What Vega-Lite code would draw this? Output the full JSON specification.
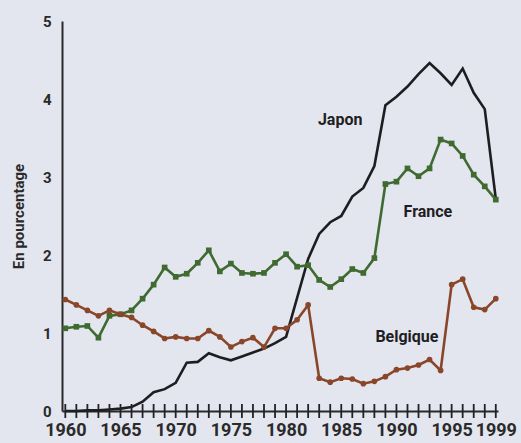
{
  "$schema": "https://vega.github.io/schema/vega-lite/v6.json",
  "width": 436,
  "height": 390,
  "autosize": {"type": "none"},
  "padding": {"left": 62, "top": 21, "right": 23, "bottom": 32},
  "background": "#e3e5ef",
  "config": {"view": {"stroke": null}, "font": "Roboto"},
  "datasets": {
    "series": [
    {"year":1960,"country":"Japon","value":0.0},{"year":1961,"country":"Japon","value":0.0},{"year":1962,"country":"Japon","value":0.01},{"year":1963,"country":"Japon","value":0.01},{"year":1964,"country":"Japon","value":0.02},{"year":1965,"country":"Japon","value":0.03},{"year":1966,"country":"Japon","value":0.05},{"year":1967,"country":"Japon","value":0.12},{"year":1968,"country":"Japon","value":0.24},{"year":1969,"country":"Japon","value":0.28},{"year":1970,"country":"Japon","value":0.36},{"year":1971,"country":"Japon","value":0.62},{"year":1972,"country":"Japon","value":0.63},{"year":1973,"country":"Japon","value":0.74},{"year":1974,"country":"Japon","value":0.69},{"year":1975,"country":"Japon","value":0.65},{"year":1976,"country":"Japon","value":0.7},{"year":1977,"country":"Japon","value":0.75},{"year":1978,"country":"Japon","value":0.8},{"year":1979,"country":"Japon","value":0.87},{"year":1980,"country":"Japon","value":0.95},{"year":1981,"country":"Japon","value":1.45},{"year":1982,"country":"Japon","value":1.95},{"year":1983,"country":"Japon","value":2.27},{"year":1984,"country":"Japon","value":2.42},{"year":1985,"country":"Japon","value":2.5},{"year":1986,"country":"Japon","value":2.75},{"year":1987,"country":"Japon","value":2.86},{"year":1988,"country":"Japon","value":3.14},{"year":1989,"country":"Japon","value":3.92},{"year":1990,"country":"Japon","value":4.03},{"year":1991,"country":"Japon","value":4.16},{"year":1992,"country":"Japon","value":4.32},{"year":1993,"country":"Japon","value":4.46},{"year":1994,"country":"Japon","value":4.33},{"year":1995,"country":"Japon","value":4.18},{"year":1996,"country":"Japon","value":4.39},{"year":1997,"country":"Japon","value":4.08},{"year":1998,"country":"Japon","value":3.87},{"year":1999,"country":"Japon","value":2.72},
    {"year":1960,"country":"France","value":1.06},{"year":1961,"country":"France","value":1.08},{"year":1962,"country":"France","value":1.09},{"year":1963,"country":"France","value":0.94},{"year":1964,"country":"France","value":1.22},{"year":1965,"country":"France","value":1.24},{"year":1966,"country":"France","value":1.29},{"year":1967,"country":"France","value":1.44},{"year":1968,"country":"France","value":1.62},{"year":1969,"country":"France","value":1.84},{"year":1970,"country":"France","value":1.72},{"year":1971,"country":"France","value":1.76},{"year":1972,"country":"France","value":1.9},{"year":1973,"country":"France","value":2.06},{"year":1974,"country":"France","value":1.79},{"year":1975,"country":"France","value":1.89},{"year":1976,"country":"France","value":1.77},{"year":1977,"country":"France","value":1.76},{"year":1978,"country":"France","value":1.77},{"year":1979,"country":"France","value":1.9},{"year":1980,"country":"France","value":2.01},{"year":1981,"country":"France","value":1.85},{"year":1982,"country":"France","value":1.87},{"year":1983,"country":"France","value":1.68},{"year":1984,"country":"France","value":1.59},{"year":1985,"country":"France","value":1.69},{"year":1986,"country":"France","value":1.82},{"year":1987,"country":"France","value":1.77},{"year":1988,"country":"France","value":1.96},{"year":1989,"country":"France","value":2.91},{"year":1990,"country":"France","value":2.94},{"year":1991,"country":"France","value":3.11},{"year":1992,"country":"France","value":3.01},{"year":1993,"country":"France","value":3.11},{"year":1994,"country":"France","value":3.48},{"year":1995,"country":"France","value":3.43},{"year":1996,"country":"France","value":3.27},{"year":1997,"country":"France","value":3.03},{"year":1998,"country":"France","value":2.88},{"year":1999,"country":"France","value":2.71},
    {"year":1960,"country":"Belgique","value":1.43},{"year":1961,"country":"Belgique","value":1.36},{"year":1962,"country":"Belgique","value":1.29},{"year":1963,"country":"Belgique","value":1.22},{"year":1964,"country":"Belgique","value":1.29},{"year":1965,"country":"Belgique","value":1.24},{"year":1966,"country":"Belgique","value":1.2},{"year":1967,"country":"Belgique","value":1.1},{"year":1968,"country":"Belgique","value":1.02},{"year":1969,"country":"Belgique","value":0.93},{"year":1970,"country":"Belgique","value":0.95},{"year":1971,"country":"Belgique","value":0.93},{"year":1972,"country":"Belgique","value":0.93},{"year":1973,"country":"Belgique","value":1.03},{"year":1974,"country":"Belgique","value":0.95},{"year":1975,"country":"Belgique","value":0.82},{"year":1976,"country":"Belgique","value":0.89},{"year":1977,"country":"Belgique","value":0.94},{"year":1978,"country":"Belgique","value":0.82},{"year":1979,"country":"Belgique","value":1.06},{"year":1980,"country":"Belgique","value":1.06},{"year":1981,"country":"Belgique","value":1.17},{"year":1982,"country":"Belgique","value":1.36},{"year":1983,"country":"Belgique","value":0.42},{"year":1984,"country":"Belgique","value":0.37},{"year":1985,"country":"Belgique","value":0.42},{"year":1986,"country":"Belgique","value":0.41},{"year":1987,"country":"Belgique","value":0.35},{"year":1988,"country":"Belgique","value":0.38},{"year":1989,"country":"Belgique","value":0.44},{"year":1990,"country":"Belgique","value":0.53},{"year":1991,"country":"Belgique","value":0.55},{"year":1992,"country":"Belgique","value":0.59},{"year":1993,"country":"Belgique","value":0.66},{"year":1994,"country":"Belgique","value":0.52},{"year":1995,"country":"Belgique","value":1.62},{"year":1996,"country":"Belgique","value":1.69},{"year":1997,"country":"Belgique","value":1.33},{"year":1998,"country":"Belgique","value":1.3},{"year":1999,"country":"Belgique","value":1.44}
    ],
    "labels": [
      {"label": "Japon", "year": 1984.9, "value": 3.73},
      {"label": "France", "year": 1992.85, "value": 2.55},
      {"label": "Belgique", "year": 1990.95, "value": 0.95}
    ],
    "yticks": [{"tick": 1}, {"tick": 2}, {"tick": 3}, {"tick": 4}, {"tick": 5}]
  },
  "data": {"name": "series"},
  "encoding": {
    "x": {
      "field": "year", "type": "quantitative",
      "scale": {"domain": [1959.7, 1999.2], "nice": false, "zero": false},
      "axis": {
        "title": null, "grid": false, "ticks": false,
        "values": [1960,1965,1970,1975,1980,1985,1990,1995,1999], "format": "d",
        "domainColor": "#2a2a2a", "domainWidth": 2,
        "labelFontSize": 18, "labelFontWeight": "bold", "labelColor": "#2a2a2a",
        "labelPadding": 10, "labelOverlap": false, "labelFlush": false
      }
    },
    "y": {
      "field": "value", "type": "quantitative",
      "scale": {"domain": [0, 5], "nice": false},
      "axis": {
        "title": "En pourcentage", "titleFontSize": 15, "titleFontWeight": "bold", "titleColor": "#2a2a2a",
        "grid": false, "values": [0,1,2,3,4,5], "format": "d", "ticks": false,
        "domainColor": "#2a2a2a", "domainWidth": 2,
        "labelFontSize": 15, "labelFontWeight": "bold", "labelColor": "#2a2a2a",
        "labelPadding": 11, "titlePadding": 16
      }
    }
  },
  "layer": [
    {
      "mark": {"type": "line", "strokeWidth": 2.6},
      "encoding": {
        "color": {"field": "country", "type": "nominal", "legend": null,
          "scale": {"domain": ["Japon", "France", "Belgique"], "range": ["#1e1e22", "#3f6a30", "#8a4628"]}}
      }
    },
    {
      "transform": [{"filter": "datum.country !== 'Japon'"}],
      "mark": {"type": "point", "filled": true, "opacity": 1, "size": 32},
      "encoding": {
        "color": {"field": "country", "type": "nominal", "legend": null,
          "scale": {"domain": ["Japon", "France", "Belgique"], "range": ["#1e1e22", "#3f6a30", "#8a4628"]}},
        "shape": {"field": "country", "type": "nominal", "legend": null,
          "scale": {"domain": ["France", "Belgique"], "range": ["square", "circle"]}}
      }
    },
    {
      "data": {"values": [{}]},
      "mark": {"type": "rule", "color": "#2a2a2a", "strokeWidth": 2, "clip": false},
      "encoding": {
        "x": {"datum": 1999.2, "type": "quantitative"},
        "y": {"datum": 0, "type": "quantitative"},
        "y2": {"datum": 5.05}
      }
    },
    {
      "transform": [{"filter": "datum.country === 'Japon'"}],
      "mark": {"type": "tick", "orient": "vertical", "color": "#222226", "thickness": 1.8, "size": 14, "opacity": 1},
      "encoding": {
        "y": {"datum": 0, "type": "quantitative"}
      }
    },
    {
      "data": {"name": "yticks"},
      "mark": {"type": "tick", "orient": "horizontal", "color": "#222226", "thickness": 2.2, "size": 16, "opacity": 1},
      "encoding": {
        "x": {"datum": 1959.7, "type": "quantitative"},
        "y": {"field": "tick", "type": "quantitative"}
      }
    },
    {
      "data": {"name": "labels"},
      "mark": {"type": "text", "fontSize": 16, "fontWeight": "bold", "color": "#1e1e22"},
      "encoding": {
        "text": {"field": "label", "type": "nominal"}
      }
    }
  ]
}
